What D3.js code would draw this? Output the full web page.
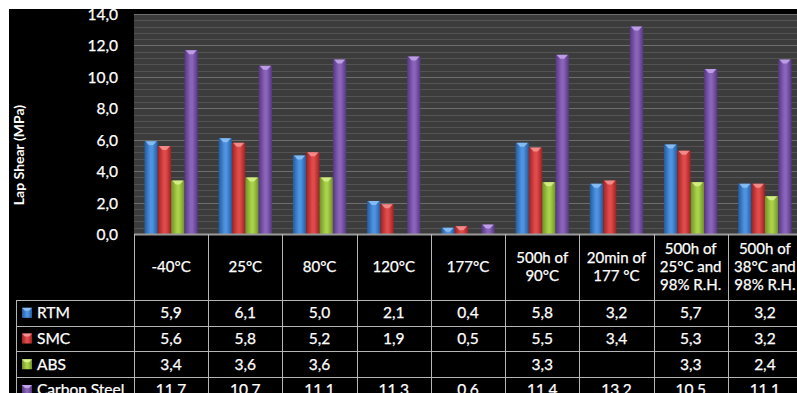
<!DOCTYPE html>
<html>
<head>
<meta charset="utf-8">
<script src="https://cdn.jsdelivr.net/npm/d3@7"></script>
<style>
html,body{margin:0;padding:0;background:#fff;}
svg{display:block;}
text{font-family:Lato,"Open Sans",sans-serif;fill:#fff;}
</style>
</head>
<body>
<svg id="chart" width="797" height="393"></svg>
<script>
const categories = [["-40°C"],["25°C"],["80°C"],["120°C"],["177°C"],["500h of","90°C"],["20min of","177 °C"],["500h of","25°C and","98% R.H."],["500h of","38°C and","98% R.H."]];
const seriesNames = ["RTM","SMC","ABS","Carbon Steel"];
const rtm = [5.9,6.1,5.0,2.1,0.4,5.8,3.2,5.7,3.2];
const smc = [5.6,5.8,5.2,1.9,0.5,5.5,3.4,5.3,3.2];
const abs = [3.4,3.6,3.6,null,null,3.3,null,3.3,2.4];
const steel = [11.7,10.7,11.1,11.3,0.6,11.4,13.2,10.5,11.1];
const yTicks = [0,2,4,6,8,10,12,14];
const yTitle = "Lap Shear (MPa)";

const series = [rtm, smc, abs, steel];
const colors = [
  {edge:"#245a9c", mid:"#4d93e2", cap:"#8cc0f5"},
  {edge:"#9c2222", mid:"#e04a4a", cap:"#f59090"},
  {edge:"#6f9226", mid:"#a9d14a", cap:"#d8f08a"},
  {edge:"#553780", mid:"#8a63bb", cap:"#c2a4ea"}
];

const svg = d3.select("#chart");
const W = 797, H = 393;

// background
svg.append("rect").attr("x",0).attr("y",0).attr("width",W).attr("height",H).attr("fill","#fff");
svg.append("rect").attr("x",9).attr("y",9).attr("width",W-9).attr("height",H-9).attr("fill","#000");

const defs = svg.append("defs");
colors.forEach((c,i)=>{
  const g = defs.append("linearGradient").attr("id","g"+i).attr("x1","0").attr("x2","1").attr("y1","0").attr("y2","0");
  g.append("stop").attr("offset","0").attr("stop-color",c.edge);
  g.append("stop").attr("offset","0.45").attr("stop-color",c.mid);
  g.append("stop").attr("offset","0.6").attr("stop-color",c.mid);
  g.append("stop").attr("offset","1").attr("stop-color",c.edge);
});

const plotL = 134, plotR = 802, plotT = 14, plotB = 234;
const x = d3.scaleBand().domain(d3.range(categories.length)).range([plotL, plotR]).paddingInner(0).paddingOuter(0);
const y = d3.scaleLinear().domain([0,14]).range([plotB, plotT]);
const xs = d3.scaleBand().domain(d3.range(series.length)).range([0, x.bandwidth()]).paddingOuter(0.78).paddingInner(0);

// plot background
svg.append("rect").attr("x",plotL).attr("y",plotT).attr("width",plotR-plotL).attr("height",plotB-plotT).attr("fill","#3c3c3c");

// minor grid
const minor = d3.range(0, 14.001, 0.4).filter(v => Math.abs(v/2 - Math.round(v/2)) > 0.01);
svg.append("g").selectAll("line").data(minor).join("line")
  .attr("x1",plotL).attr("x2",plotR).attr("y1",d=>Math.round(y(d))+0.5).attr("y2",d=>Math.round(y(d))+0.5)
  .attr("stroke","#535353").attr("stroke-width",1);
// major grid
svg.append("g").selectAll("line").data(yTicks).join("line")
  .attr("x1",plotL).attr("x2",plotR).attr("y1",d=>Math.round(y(d))+0.5).attr("y2",d=>Math.round(y(d))+0.5)
  .attr("stroke","#6e6e6e").attr("stroke-width",1.2);

// y axis
const yAxis = d3.axisLeft(y).tickValues(yTicks).tickSize(0).tickPadding(16)
  .tickFormat(d => d3.format(".1f")(d).replace(".", ","));
const ya = svg.append("g").attr("transform",`translate(${plotL},0)`).call(yAxis);
ya.select(".domain").remove();
ya.selectAll("text").attr("fill","#fff").style("font-size","15.5px").attr("dy","0.35em")
  .style("stroke","#fff").style("stroke-width","0.25px");

// y title
svg.append("text").attr("transform","translate(19,155) rotate(-90)").attr("dy","0.35em")
  .attr("text-anchor","middle").style("font-size","14px").style("font-weight","bold").text(yTitle);

// bars
series.forEach((s, si) => {
  const g = svg.append("g");
  const data = s.map((v,i)=>({v,i})).filter(d=>d.v!=null);
  g.selectAll("rect").data(data).join("rect")
    .attr("x", d => x(d.i) + xs(si))
    .attr("y", d => y(d.v))
    .attr("width", xs.bandwidth())
    .attr("height", d => y(0) - y(d.v))
    .attr("fill", `url(#g${si})`);
  g.selectAll("path").data(data).join("path")
    .attr("d", d => {
      const bx = x(d.i) + xs(si), bw = xs.bandwidth(), by = y(d.v);
      return `M${bx+1},${by}L${bx+bw-1},${by}L${bx+bw/2+2},${by+4}L${bx+bw/2-2},${by+4}Z`;
    })
    .attr("fill", colors[si].cap).attr("opacity",0.9);
});

// table
const lineCol = "#b5b5b5";
const rowTop = 300, rowH = 25.7, tableL = 16;
const tg = svg.append("g");
// axis line
tg.append("line").attr("x1",plotL).attr("x2",plotR).attr("y1",plotB+0.5).attr("y2",plotB+0.5).attr("stroke","#9a9a9a").attr("stroke-width",2);
// vertical lines
const bounds = d3.range(categories.length+1).map(i => i < categories.length ? x(i) : plotR);
tg.selectAll(".v").data(bounds).join("line").attr("class","v")
  .attr("x1",d=>Math.round(d)+0.5).attr("x2",d=>Math.round(d)+0.5).attr("y1",plotB).attr("y2",H)
  .attr("stroke",lineCol);
tg.append("line").attr("x1",tableL+0.5).attr("x2",tableL+0.5).attr("y1",rowTop).attr("y2",H).attr("stroke",lineCol);
const hLines = d3.range(series.length).map(i => rowTop + i*rowH);
tg.selectAll(".h").data(hLines).join("line").attr("class","h")
  .attr("x1",tableL).attr("x2",W).attr("y1",d=>Math.round(d)+0.5).attr("y2",d=>Math.round(d)+0.5)
  .attr("stroke",lineCol);

// header text
categories.forEach((lines, i) => {
  const cx = x(i) + x.bandwidth()/2;
  const lh = 18;
  const cy = (plotB + rowTop)/2;
  const t = tg.append("text").attr("text-anchor","middle").style("font-size","15px")
    .style("stroke","#fff").style("stroke-width","0.25px");
  lines.forEach((ln, k) => {
    t.append("tspan").attr("x", cx).attr("y", cy + (k - (lines.length-1)/2)*lh).attr("dy","0.35em").text(ln);
  });
});

// rows
const fmt = v => v==null ? "" : d3.format(".1f")(v).replace(".", ",");
series.forEach((s, si) => {
  const cy = rowTop + si*rowH + rowH/2;
  // legend marker
  const mx = 22, my = cy - 5;
  tg.append("rect").attr("x",mx).attr("y",my).attr("width",10).attr("height",10).attr("fill",`url(#g${si})`);
  tg.append("path").attr("d",`M${mx},${my}L${mx+10},${my}L${mx+7},${my+3}L${mx+3},${my+3}Z`).attr("fill",colors[si].cap);
  tg.append("text").attr("x",37).attr("y",cy).attr("dy","0.35em").style("font-size","15.5px")
    .style("stroke","#fff").style("stroke-width","0.25px").text(seriesNames[si]);
  tg.selectAll(null).data(s).join("text")
    .attr("x",(d,i)=>x(i)+x.bandwidth()/2).attr("y",cy).attr("dy","0.35em")
    .attr("text-anchor","middle").style("font-size","15.5px")
    .style("stroke","#fff").style("stroke-width","0.25px").text(d=>fmt(d));
});
</script>
</body>
</html>
